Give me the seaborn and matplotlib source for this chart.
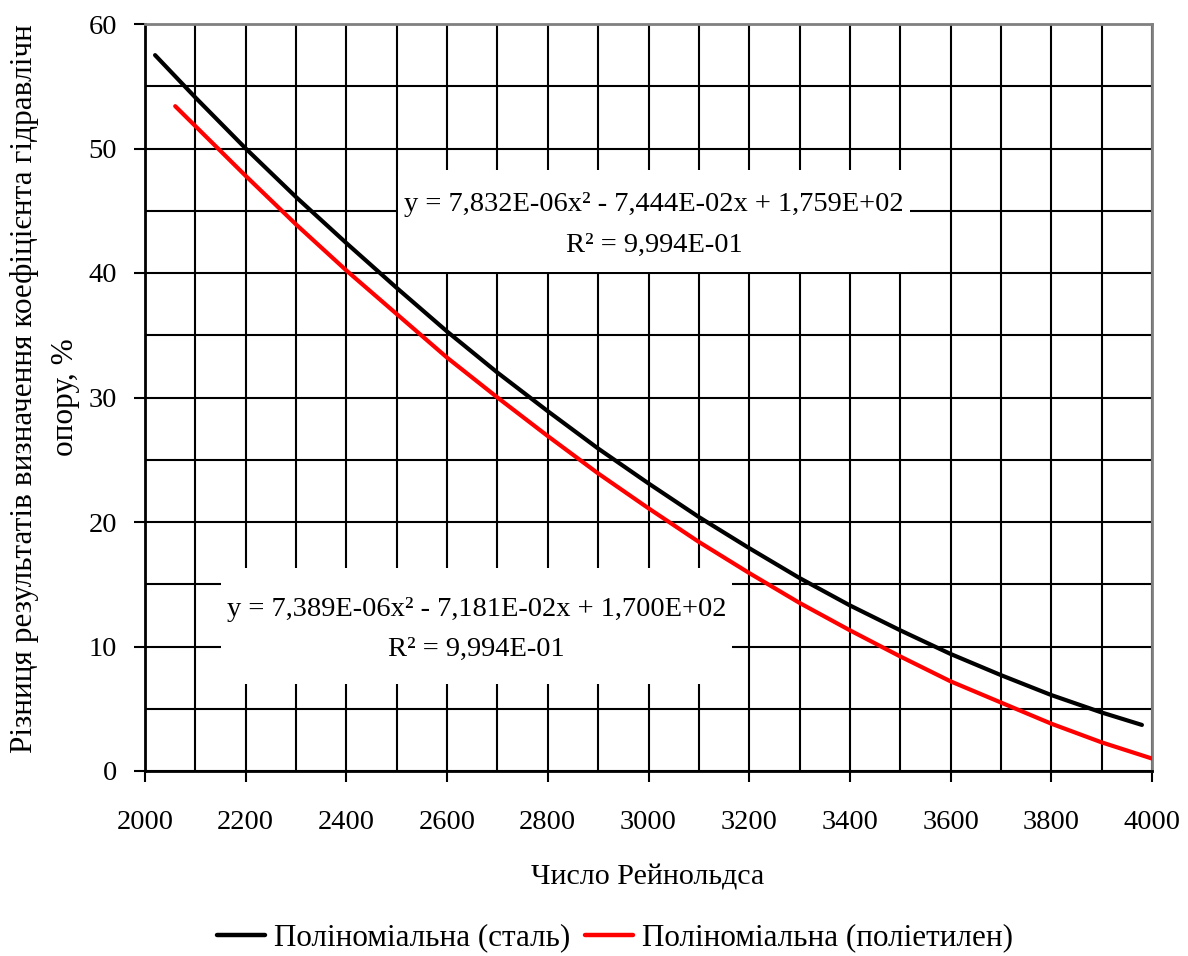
import matplotlib
matplotlib.use("Agg")
import matplotlib.pyplot as plt
from matplotlib.patches import Rectangle
from matplotlib.ticker import MultipleLocator
import pandas as pd
import seaborn as sns

# values
re_steel = [2020, 2100, 2200, 2300, 2400, 2500, 2600, 2700, 2800, 2900, 3000,
            3100, 3200, 3300, 3400, 3500, 3600, 3700, 3800, 3900, 3980]
diff_steel = [57.5, 54.1, 50.0, 46.1, 42.4, 38.8, 35.3, 32.0, 28.9, 25.9, 23.1,
              20.4, 17.9, 15.5, 13.3, 11.3, 9.4, 7.7, 6.1, 4.7, 3.7]

re_pe = [2060, 2100, 2200, 2300, 2400, 2500, 2600, 2700, 2800, 2900, 3000,
         3100, 3200, 3300, 3400, 3500, 3600, 3700, 3800, 3900, 4000]
diff_pe = [53.4, 51.8, 47.8, 43.9, 40.2, 36.7, 33.2, 30.0, 26.9, 23.9, 21.1,
           18.4, 15.9, 13.5, 11.3, 9.2, 7.2, 5.5, 3.8, 2.3, 1.0]

labels = ["Поліноміальна (сталь)", "Поліноміальна (поліетилен)"]
colors = ["black", "red"]

eq_steel = "y = 7,832E-06x² - 7,444E-02x + 1,759E+02\nR² = 9,994E-01"
eq_pe = "y = 7,389E-06x² - 7,181E-02x + 1,700E+02\nR² = 9,994E-01"

df = pd.concat([
    pd.DataFrame({"Re": re_steel, "diff": diff_steel, "series": labels[0]}),
    pd.DataFrame({"Re": re_pe, "diff": diff_pe, "series": labels[1]}),
])

sns.set_theme(style="white")
plt.rcParams["font.family"] = ["Liberation Serif", "DejaVu Serif"]
plt.rcParams["text.color"] = "black"

fs = 20.5
fig = plt.figure(figsize=(11.88, 9.56), dpi=100)
ax = fig.add_axes([145 / 1188, 1 - 771 / 956, 1007 / 1188, 747 / 956])

sns.lineplot(data=df, x="Re", y="diff", hue="series", palette=dict(zip(labels, colors)),
             linewidth=3.0, ax=ax, legend=False, zorder=4, sort=False)

ax.set_xlim(2000, 4000)
ax.set_ylim(0, 60)
ax.xaxis.set_major_locator(MultipleLocator(200))
ax.xaxis.set_minor_locator(MultipleLocator(100))
ax.yaxis.set_major_locator(MultipleLocator(10))
ax.yaxis.set_minor_locator(MultipleLocator(5))
ax.grid(which="both", color="black", linewidth=1.5)
ax.set_axisbelow(True)
ax.tick_params(axis="x", which="major", direction="out", length=8, width=1.5,
               pad=20, labelsize=fs, bottom=True, colors="black")
ax.tick_params(axis="y", which="major", direction="out", length=8, width=1.5,
               pad=12, labelsize=fs, left=True, colors="black")
ax.tick_params(which="minor", length=0)
ax.set_xlabel("")
ax.set_ylabel("")

for side in ["left", "bottom"]:
    ax.spines[side].set_color("black")
    ax.spines[side].set_linewidth(2)
for side in ["top", "right"]:
    ax.spines[side].set_color("#808080")
    ax.spines[side].set_linewidth(2)

# white label boxes of the trendline equations (axes fractions)
ax.add_patch(Rectangle((0.2512, 0.668), 0.5085, 0.1366, transform=ax.transAxes,
                       facecolor="white", edgecolor="none", zorder=3))
ax.add_patch(Rectangle((0.0755, 0.1165), 0.5074, 0.1553, transform=ax.transAxes,
                       facecolor="white", edgecolor="none", zorder=3))
ax.text(0.5055, 0.7309, eq_steel, transform=ax.transAxes, ha="center", va="center",
        fontsize=fs, linespacing=1.8, zorder=5, color="black")
ax.text(0.3292, 0.1894, eq_pe, transform=ax.transAxes, ha="center", va="center",
        fontsize=fs, linespacing=1.8, zorder=5, color="black")

fig.text(648 / 1188, 1 - 877 / 956, "Число Рейнольдса", ha="center", va="center",
         fontsize=21.6)

fig.text(25 / 1188, 1 - 753 / 956,
         "Різниця результатів визначення коефіцієнта гідравлічн",
         rotation=90, ha="center", va="bottom", fontsize=22.5)
fig.text(65 / 1188, 1 - 397 / 956, "опору, %", rotation=90, ha="center", va="center",
         fontsize=22.5)

handles = [plt.Line2D([], [], color=c, linewidth=3.2) for c in colors]
fig.legend(handles, labels, loc="center", bbox_to_anchor=(615 / 1188, 1 - 938 / 956),
           ncol=2, frameon=False, fontsize=22.4, handlelength=1.55, handletextpad=0.3,
           columnspacing=0.45)

fig.savefig("out.png", dpi=100)
